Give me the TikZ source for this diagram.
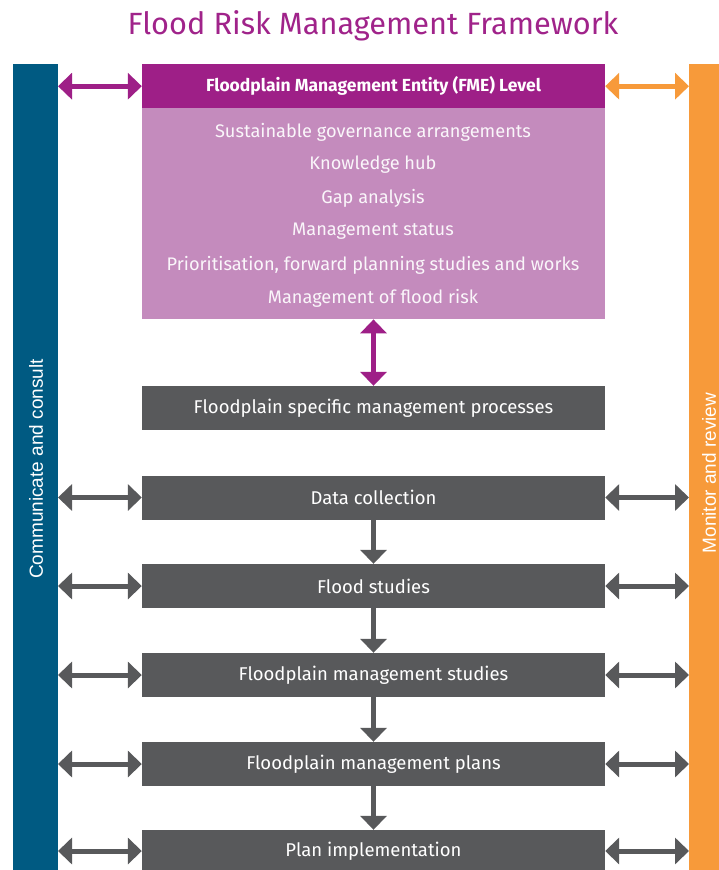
\documentclass[tikz,border=0pt]{standalone}
\usepackage{fontspec}
\setmainfont{Fira Sans}
\newfontfamily\sidefont{Liberation Sans}
\usetikzlibrary{arrows.meta}
\definecolor{fmepurple}{HTML}{9E1F87}
\definecolor{lightpurple}{HTML}{C48BBD}
\definecolor{boxgray}{HTML}{58595B}
\definecolor{barblue}{HTML}{005A82}
\definecolor{barorange}{HTML}{F79A3A}
\definecolor{titlepurple}{HTML}{A0238A}
\tikzset{
  graybox/.style={fill=boxgray, draw=none, minimum width=463pt, minimum height=44pt, inner sep=0pt, text=white, font=\fontsize{18.5}{20}\selectfont},
  dblarrow/.style={line width=5pt, {Triangle[width=26pt,length=14pt]}-{Triangle[width=26pt,length=14pt]}},
  downarrow/.style={line width=5pt, -{Triangle[width=26pt,length=14pt]}, draw=boxgray},
  listtext/.style={text=white!92!lightpurple, font=\fontsize{18.2}{20}\selectfont},
  sidetext/.style={rotate=90, text=white, font=\sidefont\fontsize{19}{22}\selectfont}
}
\begin{document}
\begin{tikzpicture}[x=1pt,y=-1pt]
\useasboundingbox (0,0) rectangle (719,870);
\fill[white] (0,0) rectangle (719,870);
% title
\node[text=titlepurple, font=\fontsize{30.7}{34}\selectfont] (title) at (373,26) {Flood Risk Management Framework};
% side bars
\fill[barblue] (13,64) rectangle (58,870);
\fill[barorange] (689,64) rectangle (719,870);
\coordinate (lbar) at (58,0);
\coordinate (rbar) at (689,0);
\node[sidetext] (comm) at (36,469) {Communicate and consult};
\node[sidetext] (mon) at (709,473) {Monitor and review};
% FME
\node[fill=lightpurple, minimum width=463pt, minimum height=211pt, inner sep=0pt, anchor=north] (fmebody) at (373.5,108) {};
\node[fill=fmepurple, minimum width=463pt, minimum height=44pt, inner sep=0pt, anchor=north, text=white, font=\bfseries\fontsize{17.5}{20}\selectfont] (fme) at (373.5,64) {Floodplain Management Entity (FME) Level};
\node[listtext] (l1) at (373,132) {Sustainable governance arrangements};
\node[listtext] (l2) at (373,165) {Knowledge hub};
\node[listtext] (l3) at (373,198) {Gap analysis};
\node[listtext] (l4) at (373,231) {Management status};
\node[listtext] (l5) at (373,265) {Prioritisation, forward planning studies and works};
\node[listtext] (l6) at (373,298) {Management of flood risk};
% gray boxes
\node[graybox] (fsmp) at (373.5,408) {Floodplain specific management processes};
\node[graybox] (dc) at (373.5,497.5) {Data collection};
\node[graybox] (fs) at (373.5,586) {Flood studies};
\node[graybox] (fms) at (373.5,675) {Floodplain management studies};
\node[graybox] (fmp) at (373.5,764) {Floodplain management plans};
\node[graybox, minimum height=42pt] (pi) at (373.5,851) {Plan implementation};
% vertical arrows
\draw[dblarrow, draw=fmepurple, fill=fmepurple] (fmebody.south) -- (fsmp.north);
\foreach \a/\b in {dc/fs, fs/fms, fms/fmp, fmp/pi}{
  \draw[downarrow, fill=boxgray] (\a.south) -- (\b.north);
}
% horizontal arrows
\draw[dblarrow, draw=fmepurple, fill=fmepurple] (lbar |- fme.west) -- (fme.west);
\draw[dblarrow, draw=barorange, fill=barorange] (fme.east) -- (rbar |- fme.east);
\foreach \n in {dc, fs, fms, fmp, pi}{
  \draw[dblarrow, draw=boxgray, fill=boxgray] (lbar |- \n.west) -- (\n.west);
  \draw[dblarrow, draw=boxgray, fill=boxgray] (\n.east) -- (rbar |- \n.east);
}
\end{tikzpicture}
\end{document}
